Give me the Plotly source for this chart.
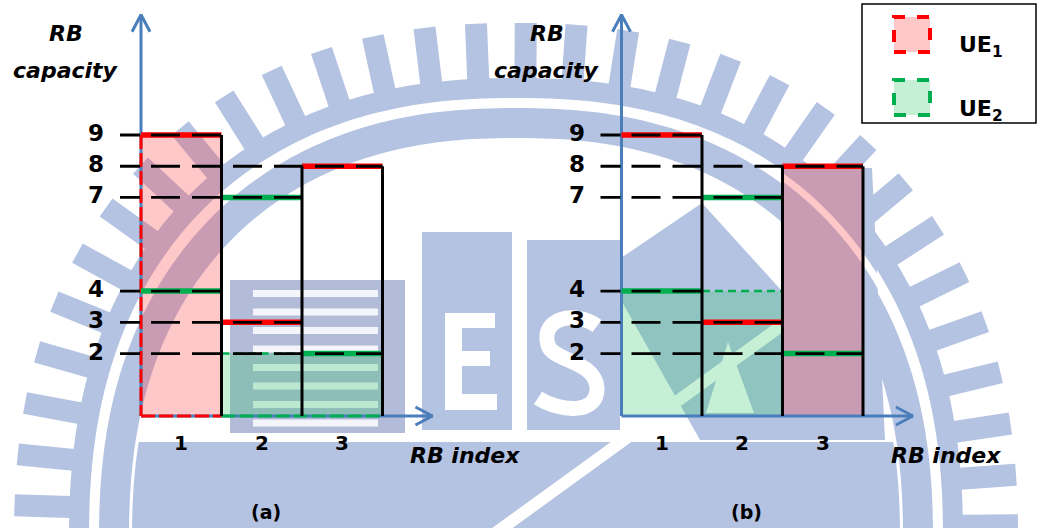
import math
import plotly.graph_objects as go

W, H = 1037, 528

# ---------------- data ----------------
RB_INDEX = [1, 2, 3]
UE1_CAPACITY = [9, 3, 8]
UE2_CAPACITY = [4, 7, 2]
PANEL_NAMES = ["(a)", "(b)"]
UE1_RBS = {"(a)": [1], "(b)": [3]}
UE2_RBS = {"(a)": [2, 3], "(b)": [1, 2]}
OUTLINED = {"(a)": True, "(b)": False}
LEGEND_LABELS = ["UE<sub>1</sub>", "UE<sub>2</sub>"]
Y_TITLE = ["RB", "capacity"]
X_TITLE = "RB index"

# ---------------- style ----------------
RED, GREEN, BLACK = "#ff0000", "#00b050", "#000000"
AXIS_BLUE = "#4a7ebb"
PINK_FILL = "rgba(255,50,50,0.27)"
GREEN_FILL = "rgba(40,200,100,0.27)"
WM_BLUE = "#b5c3e2"
WM_GREY = "#b2bbd7"
FONT = "DejaVu Sans"
REF_DASH = "20px,11px," + ",".join(["29px,12px"] * 12)

# layout geometry (pixels per unit and panel origins)
PX_X, PX_Y = 80.5, 31.22
ORIGIN_X = {"(a)": 141.0, "(b)": 621.5}
ORIGIN_Y = 416.0
SPLIT = W / 2
Y_TOP = 12.85
X_END = 4.12
TICK_START = 0.5 - 21 / PX_X

xref = {"(a)": "x", "(b)": "x2"}

fig = go.Figure()


def px(x):
    return x / W


def py(y):
    return 1 - y / H


def poly_path(pts, close=True):
    s = "M " + " L ".join(f"{px(x):.5f},{py(y):.5f}" for x, y in pts)
    return s + (" Z" if close else "")


def wm_shape(path, fill=WM_BLUE, line_color=None, line_width=0):
    d = dict(type="path", path=path, xref="paper", yref="paper", layer="below")
    if line_color:
        d["line"] = dict(color=line_color, width=line_width)
        d["fillcolor"] = "rgba(0,0,0,0)"
    else:
        d["line"] = dict(width=0)
        d["fillcolor"] = fill
    return d


# ---------------- background emblem ----------------
shapes = []
CX, CY, RA, RB_, NEXP = 516.0, 540.0, 422.0, 437.0, 2.3


def ring_point(t, off):
    c, s = math.cos(t), math.sin(t)
    fx = math.copysign(abs(c) ** (2 / NEXP), c)
    fy = math.copysign(abs(s) ** (2 / NEXP), s)
    return CX + (RA + off) * fx, CY - (RB_ + off) * fy


def ring_curve(off, n=400, t0=0.0, t1=2 * math.pi):
    return [ring_point(t0 + (t1 - t0) * i / n, off) for i in range(n + 1)]


# lower disc
disc = [p for p in ring_curve(-38, 600, 0.7, -math.pi - 0.7) if p[1] >= 440]
shapes.append(wm_shape(poly_path(disc)))

# "A"
shapes.append(wm_shape(poly_path([(621, 258), (702, 203), (781, 290), (781, 168), (872, 168),
                                  (885, 440), (700, 440), (621, 300)])))
shapes.append(wm_shape(poly_path([(728, 342), (706, 413), (754, 413)]), fill="white"))

# striped block
shapes.append(wm_shape(poly_path([(230, 280), (405, 280), (405, 433), (230, 433)]), fill=WM_GREY))
for k in range(8):
    y0 = 290 + k * 18.5
    shapes.append(wm_shape(poly_path([(253, y0), (378, y0), (378, y0 + 7), (253, y0 + 7)]),
                           fill="#f3f5fa"))
# letter blocks
for x0, y0, x1, y1 in [(422, 232, 512, 430), (527, 240, 620, 430)]:
    shapes.append(wm_shape(poly_path([(x0, y0), (x1, y0), (x1, y1), (x0, y1)])))
for pts in [[(445, 313), (462, 313), (462, 410), (445, 410)],
            [(445, 313), (495, 313), (495, 328), (445, 328)],
            [(445, 351), (490, 351), (490, 366), (445, 366)],
            [(445, 394), (497, 394), (497, 410), (445, 410)]]:
    shapes.append(wm_shape(poly_path(pts), fill="white"))
s_pts = [(597, 326), (575, 310), (540, 318), (548, 345), (553, 362), (595, 360),
         (597, 388), (598, 415), (560, 412), (538, 398)]
s_path = (f"M {px(s_pts[0][0]):.5f},{py(s_pts[0][1]):.5f} "
          + " ".join("C " + " ".join(f"{px(x):.5f},{py(y):.5f}" for x, y in s_pts[i:i + 3])
                     for i in (1, 4, 7)))
shapes.append(wm_shape(s_path, line_color="white", line_width=15))
shapes.append(dict(type="line", xref="paper", yref="paper", x0=px(490), y0=py(537),
                   x1=px(781), y1=py(326), line=dict(color="white", width=12), layer="below"))

# rings
shapes.append(wm_shape(poly_path(ring_curve(0), close=False), line_color="white", line_width=7))
shapes.append(wm_shape(poly_path(ring_curve(15), close=False), line_color=WM_BLUE, line_width=20))
shapes.append(wm_shape(poly_path(ring_curve(-20), close=False), line_color=WM_BLUE, line_width=30))

# teeth, evenly spaced along the outer band
base = ring_curve(24, 2000)
seg = [math.dist(base[i], base[i + 1]) for i in range(len(base) - 1)]
total = sum(seg)
n_teeth = 62
teeth = []
acc, j = 0.0, 0
for k in range(n_teeth):
    target = (k + 0.3) * total / n_teeth
    while acc + seg[j] < target:
        acc += seg[j]
        j += 1
    (x0, y0), (x1, y1) = base[j], base[j + 1]
    f = (target - acc) / seg[j]
    bx, by = x0 + f * (x1 - x0), y0 + f * (y1 - y0)
    tx, ty = (x1 - x0) / seg[j], (y1 - y0) / seg[j]
    nx, ny = ty, -tx
    if (bx - CX) * nx + (by - CY) * ny < 0:
        nx, ny = -nx, -ny
    hw, ln = 11, 56
    teeth.append(poly_path([(bx - hw * tx, by - hw * ty), (bx + hw * tx, by + hw * ty),
                            (bx + hw * tx + ln * nx, by + hw * ty + ln * ny),
                            (bx - hw * tx + ln * nx, by - hw * ty + ln * ny)]))
shapes.append(wm_shape(" ".join(teeth)))


# ---------------- chart ----------------
def add_line(xa, xs, ys, color, width, dash="solid"):
    fig.add_trace(go.Scatter(x=xs, y=ys, xaxis=xa, yaxis="y", mode="lines",
                             line=dict(color=color, width=width, dash=dash),
                             hoverinfo="skip", showlegend=False))


def text_font(size, italic=False):
    return dict(size=size, family=FONT, color=BLACK, weight="bold",
                style="italic" if italic else "normal")


def paper_text(x, y, text, size, italic=False, anchor="center"):
    return dict(x=px(x), y=py(y), xref="paper", yref="paper", text=text, showarrow=False,
                xanchor=anchor, yanchor="middle", font=text_font(size, italic))


heights = [max(a, b) for a, b in zip(UE1_CAPACITY, UE2_CAPACITY)]
annotations = []

for p in PANEL_NAMES:
    xa = xref[p]
    allocations = [(UE1_RBS[p], UE1_CAPACITY, PINK_FILL, RED),
                   (UE2_RBS[p], UE2_CAPACITY, GREEN_FILL, GREEN)]

    # allocated regions
    for rbs, cap, fcol, lcol in allocations:
        level = min(cap[RB_INDEX.index(r)] for r in rbs)
        x0, x1 = min(rbs) - 0.5, max(rbs) + 0.5
        fig.add_trace(go.Scatter(x=[x0, x1, x1, x0, x0], y=[0, 0, level, level, 0],
                                 xaxis=xa, yaxis="y", mode="lines", fill="toself",
                                 fillcolor=fcol, line=dict(width=0),
                                 hoverinfo="skip", showlegend=False))

    # axes with open arrowheads
    add_line(xa, [0.5, 0.5], [0, Y_TOP], AXIS_BLUE, 3)
    add_line(xa, [0.5, X_END], [0, 0], AXIS_BLUE, 3)
    dxa, dya = 9 / PX_X, 17 / PX_Y
    add_line(xa, [0.5 - dxa, 0.5, 0.5 + dxa], [Y_TOP - dya, Y_TOP, Y_TOP - dya], AXIS_BLUE, 3)
    dxb, dyb = 17 / PX_X, 9 / PX_Y
    add_line(xa, [X_END - dxb, X_END, X_END - dxb], [dyb, 0, -dyb], AXIS_BLUE, 3)

    for rbs, cap, fcol, lcol in allocations:
        level = min(cap[RB_INDEX.index(r)] for r in rbs)
        x0, x1 = min(rbs) - 0.5, max(rbs) + 0.5
        if OUTLINED[p]:
            if x0 == 0.5:
                add_line(xa, [x0, x0], [level, 0], lcol, 3, "14px,4px")
            add_line(xa, [x0, x1], [0, 0], lcol, 3, "14px,4px")
        for r in rbs:
            if cap[RB_INDEX.index(r)] != level:
                add_line(xa, [r - 0.5, r + 0.5], [level, level], lcol, 2.5, "8px,5px")

    # capacity levels per RB
    for r, c1, c2 in zip(RB_INDEX, UE1_CAPACITY, UE2_CAPACITY):
        add_line(xa, [r - 0.5, r + 0.5], [c1, c1], RED, 5.5)
        add_line(xa, [r - 0.5, r + 0.5], [c2, c2], GREEN, 5.5)

    # RB borders
    for i, r in enumerate(RB_INDEX):
        right = heights[i] if i == len(RB_INDEX) - 1 else max(heights[i], heights[i + 1])
        add_line(xa, [r + 0.5, r + 0.5], [0, right], BLACK, 3)

    # reference dashes from the capacity axis
    for r, c1, c2 in zip(RB_INDEX, UE1_CAPACITY, UE2_CAPACITY):
        for c in (c1, c2):
            add_line(xa, [TICK_START, r + 0.5], [c, c], BLACK, 2.8, REF_DASH)

    # tick labels
    for c in sorted(set(UE1_CAPACITY + UE2_CAPACITY)):
        annotations.append(dict(x=0.5, y=c, xref=xa, yref="y", text=str(c),
                                showarrow=False, xanchor="center", yanchor="middle",
                                xshift=-45, yshift=2, font=text_font(23)))
    for r in RB_INDEX:
        annotations.append(dict(x=r, y=0, xref=xa, yref="y", text=str(r),
                                showarrow=False, xanchor="center", yanchor="middle",
                                yshift=-27, font=text_font(20)))

    ox = ORIGIN_X[p] - ORIGIN_X["(a)"]
    annotations.append(paper_text(66 + ox, 33, Y_TITLE[0], 22, True))
    annotations.append(paper_text(66 + ox, 70, Y_TITLE[1], 22, True))
    annotations.append(paper_text(465 + ox, 455, X_TITLE, 22, True))
    annotations.append(paper_text(266 + ox, 512, p, 19))

# ---------------- legend box ----------------
shapes.append(dict(type="rect", xref="paper", yref="paper", x0=px(862), x1=px(1036),
                   y0=py(123), y1=py(4), line=dict(color=BLACK, width=1.5),
                   fillcolor="white", layer="above"))
for i, (label, fcol, lcol) in enumerate(zip(LEGEND_LABELS, [PINK_FILL, GREEN_FILL], [RED, GREEN])):
    top = 17 + i * 63
    shapes.append(dict(type="rect", xref="paper", yref="paper", x0=px(894), x1=px(930),
                       y0=py(top + 35), y1=py(top), line=dict(color=lcol, width=4, dash="dash"),
                       fillcolor=fcol, layer="above"))
    annotations.append(paper_text(957, top + 30, label, 22, anchor="left"))

fig.update_layout(
    width=W, height=H, margin=dict(l=0, r=0, t=0, b=0),
    paper_bgcolor="white", plot_bgcolor="white",
    shapes=shapes, annotations=annotations, showlegend=False,
    xaxis=dict(domain=[0, 0.5], range=[0.5 - ORIGIN_X["(a)"] / PX_X, 0.5 + (SPLIT - ORIGIN_X["(a)"]) / PX_X],
               visible=False, fixedrange=True),
    xaxis2=dict(domain=[0.5, 1], range=[0.5 - (ORIGIN_X["(b)"] - SPLIT) / PX_X, 0.5 + (W - ORIGIN_X["(b)"]) / PX_X],
                visible=False, anchor="y", fixedrange=True),
    yaxis=dict(domain=[0, 1], range=[-(H - ORIGIN_Y) / PX_Y, ORIGIN_Y / PX_Y],
               visible=False, fixedrange=True),
)

fig.write_html("out.html")
